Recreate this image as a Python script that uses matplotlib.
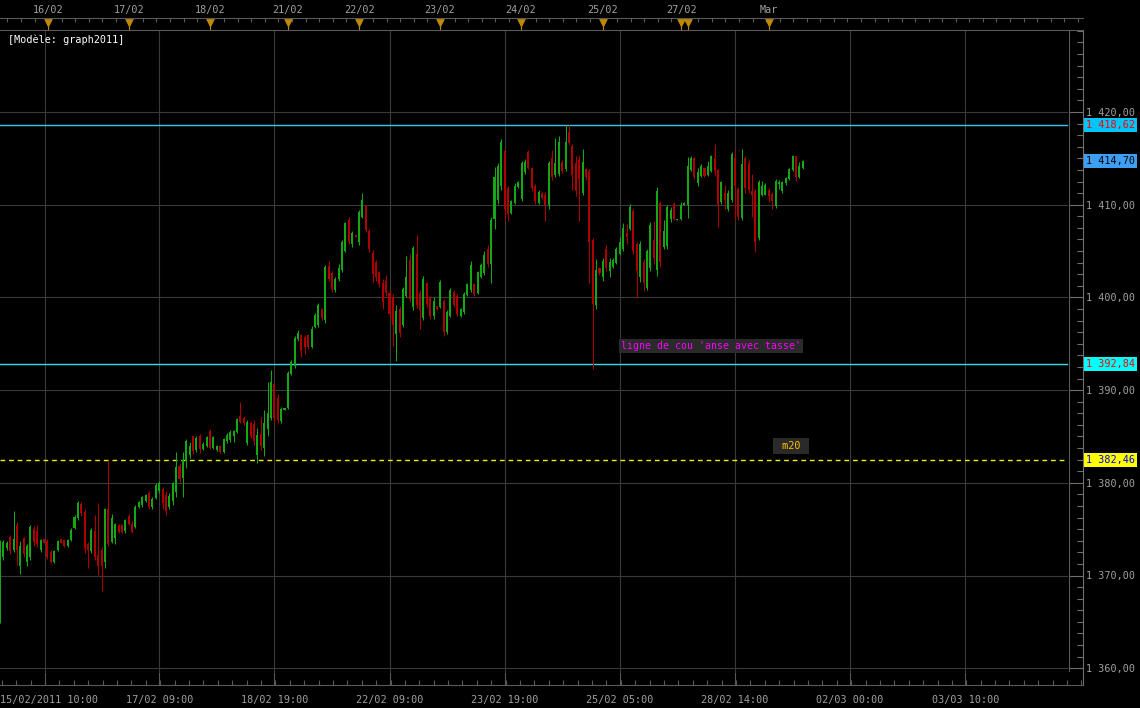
import matplotlib.pyplot as plt
import numpy as np

W, H = 1140, 708
BAR_PX = 3.387  # pixels per hourly bar

# hourly candles, 15/02/2011 10:00 -> 01/03
opens = [
    1365.2, 1372.0, 1373.0, 1374.2, 1372.8, 1375.5, 1371.0, 1374.0, 1371.5, 1372.0,
    1375.0, 1374.8, 1372.8, 1373.9, 1373.7, 1372.5, 1371.5, 1372.7, 1373.9, 1373.8,
    1373.2, 1373.8, 1375.1, 1376.2, 1377.7, 1376.8, 1373.4, 1372.6, 1374.8, 1372.2,
    1372.8, 1371.5, 1377.2, 1373.6, 1374.0, 1375.5, 1375.4, 1374.8, 1376.4, 1375.6,
    1375.2, 1377.4, 1377.6, 1378.0, 1378.9, 1377.4, 1378.4, 1379.1, 1379.3, 1378.7,
    1377.4, 1378.0, 1379.0, 1381.8, 1380.5, 1382.4, 1383.0, 1385.0, 1383.5, 1385.0,
    1383.6, 1384.0, 1385.6, 1383.8, 1383.5, 1384.0, 1383.3, 1384.5, 1384.6, 1385.0,
    1385.5, 1387.2, 1387.0, 1384.3, 1386.5, 1386.3, 1383.0, 1385.3, 1383.8, 1385.8,
    1387.0, 1390.7, 1389.2, 1386.7, 1387.9, 1388.1, 1391.7, 1392.6, 1395.5, 1395.9,
    1395.7, 1395.9, 1394.7, 1396.8, 1397.0, 1398.7, 1397.6, 1403.4, 1402.6, 1400.8,
    1402.0, 1403.0, 1405.0, 1408.3, 1405.8, 1406.7, 1406.0, 1408.7, 1409.9, 1407.2,
    1404.8, 1403.8, 1402.7, 1401.5, 1401.8, 1400.5, 1400.0, 1396.0, 1398.8, 1397.0,
    1400.2, 1404.0, 1399.0, 1404.7, 1400.5, 1397.8, 1401.5, 1400.0, 1398.0, 1399.1,
    1399.0, 1399.6, 1396.3, 1398.0, 1400.6, 1400.2, 1398.0, 1398.4, 1400.3, 1400.8,
    1401.4, 1400.5, 1402.2, 1402.6, 1405.2, 1403.6, 1408.5, 1410.5, 1412.0, 1415.8,
    1411.8, 1409.1, 1410.2, 1411.9, 1410.6, 1413.5, 1415.7, 1414.0, 1412.0, 1410.2,
    1411.3, 1411.0, 1410.0, 1415.0, 1413.2, 1413.3, 1414.6, 1413.8, 1417.8, 1416.3,
    1414.5, 1414.8, 1411.3, 1413.8, 1413.6, 1406.2, 1399.2, 1403.2, 1402.2, 1405.2,
    1402.8, 1403.3, 1403.7, 1404.7, 1405.2, 1407.0, 1407.4, 1409.3, 1405.8, 1402.2,
    1403.8, 1401.0, 1403.2, 1406.2, 1403.0, 1410.2, 1405.4, 1405.5, 1408.5, 1410.1,
    1408.3, 1408.5, 1410.0, 1410.0, 1413.7, 1415.0, 1412.3, 1413.1, 1414.0, 1413.2,
    1413.6, 1415.0, 1413.7, 1410.3, 1411.3, 1409.5, 1410.5, 1415.0, 1411.7, 1408.6,
    1415.0, 1414.5, 1411.5, 1411.5, 1406.4, 1411.0, 1411.1, 1411.6, 1411.2, 1409.9,
    1412.2, 1411.5, 1412.3, 1412.8, 1413.7, 1415.2, 1413.0, 1414.0,
]
highs = [
    1373.8, 1373.8, 1373.7, 1374.4, 1377.0, 1375.8, 1373.7, 1374.2, 1373.4, 1375.5,
    1375.3, 1375.4, 1373.9, 1373.9, 1373.9, 1372.7, 1372.8, 1373.8, 1373.9, 1373.9,
    1373.9, 1375.1, 1376.5, 1378.0, 1377.9, 1377.2, 1373.6, 1375.1, 1376.5, 1377.8,
    1373.1, 1377.3, 1382.3, 1376.6, 1375.7, 1375.6, 1375.6, 1376.1, 1376.6, 1375.9,
    1377.6, 1378.0, 1378.6, 1378.8, 1379.1, 1378.5, 1380.0, 1380.2, 1379.5, 1379.1,
    1378.9, 1380.1, 1383.3, 1382.1, 1383.3, 1384.7, 1384.4, 1385.1, 1385.0, 1385.3,
    1384.4, 1385.0, 1385.8, 1385.0, 1384.1, 1384.1, 1384.8, 1385.4, 1385.7, 1385.7,
    1387.0, 1388.7, 1387.2, 1386.8, 1386.6, 1386.8, 1385.9, 1387.1, 1387.9, 1390.9,
    1392.2, 1390.8, 1389.6, 1388.2, 1388.1, 1392.1, 1393.2, 1395.8, 1396.5, 1396.0,
    1395.9, 1396.0, 1396.9, 1398.3, 1399.4, 1398.9, 1403.5, 1403.9, 1402.9, 1402.2,
    1403.6, 1406.2, 1408.1, 1408.7, 1407.2, 1406.7, 1409.4, 1411.3, 1410.0, 1407.4,
    1405.1, 1404.0, 1402.9, 1402.0, 1402.4, 1400.8, 1400.4, 1399.2, 1399.1, 1401.1,
    1404.5, 1404.7, 1405.5, 1406.7, 1400.8, 1402.3, 1401.7, 1400.2, 1400.0, 1399.1,
    1401.9, 1399.8, 1398.6, 1401.0, 1400.8, 1400.4, 1398.9, 1400.6, 1401.6, 1403.9,
    1401.6, 1402.9, 1403.7, 1405.0, 1405.6, 1408.7, 1414.1, 1414.5, 1417.1, 1415.9,
    1412.0, 1410.5, 1412.3, 1412.6, 1414.7, 1414.9, 1415.9, 1414.1, 1412.2, 1411.6,
    1411.4, 1411.4, 1414.7, 1415.9, 1417.2, 1417.4, 1414.8, 1418.6, 1418.6, 1416.5,
    1415.2, 1415.3, 1416.0, 1414.0, 1413.9, 1406.4, 1404.1, 1403.3, 1404.3, 1405.6,
    1404.3, 1404.2, 1405.4, 1406.5, 1408.0, 1407.9, 1410.1, 1409.5, 1406.0, 1406.1,
    1404.1, 1405.2, 1408.1, 1408.2, 1411.9, 1410.4, 1408.4, 1410.0, 1409.7, 1410.3,
    1408.5, 1410.3, 1410.3, 1415.1, 1415.3, 1415.1, 1414.0, 1414.4, 1414.0, 1414.7,
    1415.4, 1416.5, 1413.8, 1412.6, 1412.1, 1411.6, 1415.7, 1415.9, 1411.9, 1416.0,
    1415.3, 1414.8, 1413.3, 1411.7, 1412.7, 1412.6, 1412.3, 1411.8, 1411.4, 1412.8,
    1412.7, 1412.6, 1413.0, 1414.0, 1415.4, 1415.3, 1414.6, 1414.8,
]
lows = [
    1364.9, 1371.7, 1372.8, 1372.3, 1372.5, 1371.1, 1370.2, 1372.0, 1371.0, 1371.7,
    1373.2, 1373.1, 1372.5, 1373.5, 1371.8, 1371.3, 1371.3, 1372.6, 1373.5, 1373.1,
    1373.1, 1373.7, 1375.0, 1376.0, 1376.4, 1372.4, 1370.8, 1372.4, 1371.7, 1370.1,
    1368.3, 1370.8, 1373.2, 1373.5, 1373.4, 1374.6, 1374.6, 1374.6, 1375.5, 1374.6,
    1375.1, 1377.3, 1377.4, 1377.9, 1377.2, 1377.2, 1378.3, 1378.9, 1377.2, 1376.5,
    1377.2, 1377.6, 1378.5, 1380.1, 1378.5, 1381.6, 1382.7, 1383.1, 1383.3, 1383.2,
    1383.5, 1383.9, 1383.6, 1383.7, 1383.4, 1383.2, 1383.2, 1384.3, 1384.4, 1384.4,
    1385.4, 1386.4, 1386.2, 1384.1, 1384.8, 1384.1, 1382.1, 1383.5, 1382.9, 1385.0,
    1386.8, 1386.4, 1386.4, 1386.5, 1387.9, 1388.0, 1391.6, 1392.4, 1395.3, 1393.6,
    1393.9, 1394.4, 1394.5, 1396.7, 1396.8, 1397.6, 1397.2, 1401.8, 1400.6, 1400.6,
    1401.8, 1402.7, 1404.9, 1405.8, 1405.4, 1406.5, 1405.6, 1408.6, 1407.1, 1404.9,
    1401.7, 1401.8, 1401.1, 1398.8, 1400.2, 1397.7, 1394.8, 1393.1, 1395.7, 1396.8,
    1400.0, 1399.5, 1398.6, 1398.9, 1396.6, 1397.6, 1399.0, 1397.7, 1397.7, 1398.6,
    1398.9, 1395.8, 1396.1, 1397.9, 1399.0, 1398.0, 1397.9, 1398.2, 1400.2, 1400.6,
    1400.2, 1400.4, 1402.1, 1402.4, 1403.3, 1401.6, 1407.4, 1410.1, 1411.6, 1408.2,
    1408.2, 1409.0, 1410.1, 1411.8, 1410.4, 1413.3, 1413.8, 1411.5, 1410.1, 1410.1,
    1410.6, 1408.2, 1409.5, 1412.7, 1413.0, 1413.1, 1413.4, 1413.6, 1416.5, 1411.6,
    1410.9, 1408.2, 1411.1, 1412.7, 1401.5, 1392.3, 1398.7, 1402.4, 1401.8, 1402.9,
    1402.2, 1403.2, 1403.6, 1404.6, 1405.0, 1405.8, 1407.3, 1404.7, 1400.0, 1401.7,
    1400.7, 1400.8, 1402.9, 1403.6, 1402.3, 1403.3, 1405.2, 1405.2, 1408.1, 1408.3,
    1408.3, 1408.4, 1410.0, 1408.6, 1413.6, 1412.8, 1412.0, 1413.0, 1413.0, 1413.1,
    1413.5, 1413.1, 1407.6, 1410.1, 1409.5, 1409.3, 1410.3, 1408.4, 1408.4, 1408.4,
    1411.3, 1411.3, 1408.7, 1404.9, 1406.2, 1410.9, 1411.0, 1410.3, 1409.5, 1409.6,
    1411.7, 1411.3, 1412.1, 1412.7, 1413.6, 1412.6, 1412.9, 1413.9,
]
closes = [
    1373.2, 1373.6, 1373.5, 1372.6, 1373.9, 1372.8, 1373.2, 1372.3, 1373.2, 1375.2,
    1373.6, 1373.4, 1373.8, 1373.5, 1372.0, 1371.5, 1372.6, 1373.7, 1373.5, 1373.2,
    1373.8, 1374.9, 1376.3, 1377.8, 1376.7, 1373.0, 1372.7, 1374.9, 1372.0, 1371.0,
    1371.0, 1377.2, 1373.4, 1376.2, 1375.6, 1374.7, 1374.7, 1376.0, 1375.6, 1374.7,
    1377.4, 1377.9, 1378.5, 1378.7, 1377.4, 1378.3, 1379.8, 1380.0, 1377.8, 1377.0,
    1378.6, 1380.0, 1381.7, 1380.4, 1382.5, 1384.5, 1384.0, 1383.4, 1384.8, 1383.6,
    1384.2, 1384.9, 1383.8, 1384.9, 1384.0, 1383.3, 1384.7, 1385.2, 1385.5, 1385.6,
    1386.9, 1386.6, 1386.4, 1386.6, 1385.0, 1384.5, 1385.2, 1384.0, 1386.5, 1387.5,
    1390.9, 1387.0, 1386.8, 1388.0, 1388.1, 1391.8, 1393.0, 1395.6, 1396.2, 1394.2,
    1394.6, 1394.7, 1396.6, 1398.1, 1399.2, 1397.8, 1403.3, 1402.0, 1400.9, 1402.0,
    1403.2, 1406.0, 1408.0, 1406.0, 1407.0, 1406.5, 1409.2, 1410.5, 1407.3, 1405.2,
    1402.5, 1402.2, 1401.4, 1399.5, 1400.5, 1398.2, 1397.0, 1398.5, 1396.2, 1400.9,
    1402.2, 1399.8, 1405.3, 1399.2, 1398.6, 1402.0, 1399.3, 1398.0, 1399.6, 1398.7,
    1401.7, 1396.3, 1398.4, 1400.8, 1399.2, 1398.2, 1398.7, 1400.4, 1401.4, 1403.5,
    1400.4, 1402.7, 1403.5, 1404.6, 1403.6, 1408.4, 1413.0, 1414.2, 1416.8, 1409.5,
    1409.0, 1410.4, 1412.0, 1412.4, 1414.5, 1414.6, 1414.0, 1411.8, 1410.4, 1411.4,
    1410.7, 1410.0, 1414.5, 1413.0, 1414.5, 1416.8, 1413.6, 1416.8, 1416.7, 1413.2,
    1411.5, 1412.8, 1414.6, 1413.0, 1406.0, 1399.3, 1403.0, 1402.6, 1403.9, 1403.2,
    1403.8, 1404.0, 1405.2, 1406.0, 1407.5, 1406.5, 1409.8, 1405.0, 1402.8, 1405.8,
    1401.5, 1405.0, 1407.8, 1404.3, 1411.5, 1403.8, 1407.2, 1409.8, 1409.4, 1408.5,
    1408.5, 1410.0, 1410.2, 1414.2, 1415.0, 1413.0, 1413.5, 1414.2, 1413.1, 1414.2,
    1415.2, 1413.6, 1410.0, 1412.4, 1410.5, 1411.3, 1415.5, 1412.0, 1408.7, 1414.4,
    1411.8, 1411.6, 1411.0, 1406.0, 1412.4, 1412.0, 1412.1, 1410.9, 1410.4, 1412.6,
    1412.5, 1412.5, 1412.9, 1413.9, 1415.2, 1413.0, 1414.2, 1414.7,
]

# top time strip (day starts)
top_days = ["16/02", "17/02", "18/02", "21/02", "22/02", "23/02", "24/02", "25/02", "27/02", "Mar"]
top_day_bars = [14.2, 38.1, 62.0, 85.0, 106.0, 129.9, 153.8, 178.0, 201.1, 227.0]
top_marker_bars = top_day_bars + [203.1]

# bottom time axis
bottom_labels = ["15/02/2011 10:00", "17/02 09:00", "18/02 19:00", "22/02 09:00", "23/02 19:00",
                 "25/02 05:00", "28/02 14:00", "02/03 00:00", "03/03 10:00"]
grid_bars = [13.3, 47, 81, 115, 149, 183, 217, 251, 285]

price_ticks = [1360, 1370, 1380, 1390, 1400, 1410, 1420]
resistance = 1418.62
neckline = 1392.84
ma20 = 1382.46
last_price = 1414.70

MONO = 'DejaVu Sans Mono'
FS = 7.3
GRID = '#3a3a3a'
FRAME = '#5a5a5a'
AXTXT = '#a0a0a0'
GREEN = '#14a814'
RED = '#b00000'


def px_box(x0, y0, x1, y1):
    return [x0 / W, 1 - y1 / H, (x1 - x0) / W, (y1 - y0) / H]


def fmt(p):
    return f"{int(p) // 1000} {p % 1000:06.2f}".replace('.', ',')


fig = plt.figure(figsize=(W / 100, H / 100), dpi=100, facecolor='black')

# main price panel
ax = fig.add_axes(px_box(0, 30, 1083, 672), facecolor='black')
xmax_bar = 1083 / BAR_PX
inner = 1067 / 1083

for p in price_ticks:
    ax.axhline(p, xmin=0, xmax=inner, color=GRID, lw=0.8, zorder=0)
for b in grid_bars:
    ax.axvline(b, color=GRID, lw=0.8, zorder=0)
ax.axvline(1069 / BAR_PX, color=FRAME, lw=0.8, zorder=0)

# candles
o = np.array(opens)
c = np.array(closes)
idx = np.arange(len(c))
cols = np.where(c >= o, GREEN, RED)
ax.vlines(idx, lows, highs, colors=cols, lw=0.75, zorder=2)
body = np.where(np.abs(c - o) < 0.12, np.where(c >= o, 0.12, -0.12), c - o)
ax.bar(idx, body, bottom=o, width=0.6, color=cols, linewidth=0, zorder=3)

# levels
ax.axhline(resistance, xmax=inner, color='#3cc6ee', lw=1.0, zorder=1)
ax.axhline(neckline, xmax=inner, color='#2ee0e8', lw=1.0, zorder=1)
ax.axhline(ma20, xmax=inner, color='#f2f200', lw=1.0, linestyle=(0, (3.4, 2.8)), zorder=1)

# right price axis
ax.yaxis.tick_right()
ax.set_yticks(price_ticks, [fmt(p) for p in price_ticks])
ax.set_yticks(np.arange(1360, 1428.8, 1.25), minor=True)
ax.tick_params(axis='y', which='major', direction='in', length=10, width=0.8,
               color='#707070', labelcolor=AXTXT, labelsize=FS, pad=2.2)
ax.tick_params(axis='y', which='minor', direction='in', length=4.5, width=0.8, color='#707070')
for lbl in ax.get_yticklabels():
    lbl.set_family(MONO)
ax.set_xticks([])
# limits after ticks so set_yticks cannot widen them
ax.set_xlim(0, xmax_bar)
ax.set_ylim(1420 - (672 - 112) / 9.27, 1420 + (112 - 30) / 9.27)
for s in ['left', 'top']:
    ax.spines[s].set_visible(False)
ax.spines['right'].set_color('#707070')
ax.spines['bottom'].set_color(FRAME)
ax.spines['bottom'].set_bounds(0, 1069 / BAR_PX)


def price_tag(y, fg, bg):
    ax.text(1.0 + 3 / 1083, y, fmt(y), transform=ax.get_yaxis_transform(), ha='left', va='center',
            color=fg, fontsize=FS, family=MONO, clip_on=False, zorder=6,
            bbox=dict(boxstyle='square,pad=0.22', fc=bg, ec='none'))


price_tag(resistance, '#ff0000', '#00c4fa')
price_tag(last_price, '#000000', '#3c9ef5')
price_tag(neckline, '#ff0000', '#00ffff')
price_tag(ma20, '#0000ff', '#ffff00')

# annotations
ax.text(621 / BAR_PX, 1420 - (346 - 112) / 9.27, "ligne de cou 'anse avec tasse'",
        color='#ff00ff', fontsize=7.1, family=MONO, ha='left', va='center', zorder=6,
        bbox=dict(boxstyle='square,pad=0.25', fc='#2a2a2a', ec='none'))
ax.text(791 / BAR_PX, 1420 - (446 - 112) / 9.27, " m20 ",
        color='#ffc000', fontsize=FS, family=MONO, ha='center', va='center', zorder=6,
        bbox=dict(boxstyle='square,pad=0.25', fc='#2a2a2a', ec='none'))

fig.text(8 / W, 1 - 40 / H, "[Modèle: graph2011]", color='white', fontsize=FS, family=MONO,
         ha='left', va='center')

# top strip with day markers
ax_top = fig.add_axes(px_box(0, 18, 1083, 30), facecolor='black')
ax_top.set_ylim(0, 1)
ax_top.set_yticks([])
for s in ['left', 'right']:
    ax_top.spines[s].set_visible(False)
for s in ['top', 'bottom']:
    ax_top.spines[s].set_color(FRAME)
ax_top.xaxis.tick_top()
ax_top.set_xticks(top_day_bars, top_days)
ax_top.set_xticks(np.arange(2.2, xmax_bar, 4), minor=True)
ax_top.tick_params(axis='x', which='major', top=True, bottom=False, length=0, pad=2.2,
                   labelsize=FS, labelcolor=AXTXT)
ax_top.tick_params(axis='x', which='minor', top=True, bottom=False, direction='in',
                   length=3, width=0.8, color=FRAME)
for lbl in ax_top.get_xticklabels():
    lbl.set_family(MONO)
ax_top.vlines(top_marker_bars, 0, 0.5, color='#c08a00', lw=0.8, zorder=3)
ax_top.scatter(top_marker_bars, [0.6] * len(top_marker_bars), marker='v', s=40,
               color='#c08a00', linewidths=0, zorder=4, clip_on=False)
ax_top.set_xlim(0, xmax_bar)

# bottom time axis strip
ax_bot = fig.add_axes(px_box(0, 672, 1083, 685), facecolor='black')
ax_bot.set_ylim(0, 1)
ax_bot.set_yticks([])
for s in ['left', 'top']:
    ax_bot.spines[s].set_visible(False)
ax_bot.spines['bottom'].set_color(FRAME)
ax_bot.spines['right'].set_color('#707070')
ax_bot.vlines(grid_bars, 0, 1, color=FRAME, lw=0.8)
ax_bot.set_xticks([0] + grid_bars[1:], bottom_labels)
ax_bot.set_xticks(np.arange(13.3 - 3 * 4.25, xmax_bar, 4.25), minor=True)
ax_bot.tick_params(axis='x', which='major', length=0, pad=7, labelsize=FS, labelcolor=AXTXT)
ax_bot.tick_params(axis='x', which='minor', direction='in', length=3.5, width=0.8, color=FRAME)
for i, lbl in enumerate(ax_bot.get_xticklabels()):
    lbl.set_family(MONO)
    if i == 0:
        lbl.set_horizontalalignment('left')
ax_bot.set_xlim(0, xmax_bar)

fig.savefig('out.png', dpi=100, facecolor='black')
